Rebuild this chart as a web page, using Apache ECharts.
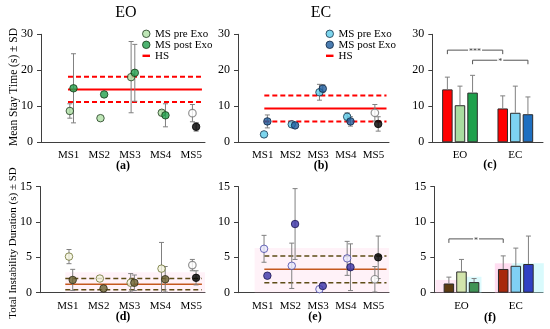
<!DOCTYPE html>
<html>
<head>
<meta charset="utf-8">
<script src="https://cdn.jsdelivr.net/npm/echarts@6/dist/echarts.min.js"></script>
<style>
html,body{margin:0;padding:0;background:#ffffff;}
#chart{width:550px;height:329px;}
</style>
</head>
<body>
<div id="chart"></div>
<script>
// ================= DATA =================
const categories = ['MS1', 'MS2', 'MS3', 'MS4', 'MS5'];
const groups = ['EO', 'EC'];
const yTicksTop = [0, 10, 20, 30];
const yTicksBottom = [0, 5, 10, 15];
const legendNames = ['MS pre Exo', 'MS post Exo', 'HS'];

// (a) Mean stay time, EO
const stayEOPre = [8.7, 6.7, 18.1, 8.2, 8.1];
const stayEOPreSD = [2.0, 0, 9.9, 0.6, 2.4];
const stayEOPost = [15.0, 13.3, 19.3, 7.5, 4.3];
const stayEOPostSD = [9.6, 0, 7.9, 3.2, 1.2];
const stayEOHS = [14.7, 3.5];          // mean, SD

// (b) Mean stay time, EC
const stayECPre = [2.2, 5.0, 13.9, 7.1, 8.2];
const stayECPreSD = [0, 0, 2.2, 1.1, 2.3];
const stayECPost = [5.8, 4.7, 14.9, 5.8, 5.1];
const stayECPostSD = [1.8, 0, 1.1, 1.3, 2.0];
const stayECHS = [9.4, 3.6];

// (c) group means (EO, EC)
const stayHSMean = [14.7, 9.4];
const stayHSSD = [3.4, 3.5];
const stayPreMean = [10.3, 8.2];
const stayPreSD = [5.3, 7.4];
const stayPostMean = [13.8, 7.8];
const stayPostSD = [4.8, 4.8];

// (d) Total instability duration, EO
const instEOPre = [5.1, 2.0, 1.4, 3.4, 3.9];
const instEOPreSD = [1.0, 0, 1.3, 3.7, 0.8];
const instEOPost = [1.8, 0.6, 1.4, 1.9, 2.1];
const instEOPostSD = [1.5, 0, 1.1, 1.8, 1.0];
const instEOHS = [1.2, 0.8];

// (e) Total instability duration, EC
const instECPre = [6.2, 3.8, 0.5, 4.85, 1.9];
const instECPreSD = [1.9, 3.2, 0, 2.4, 1.8];
const instECPost = [2.4, 9.7, 0.95, 3.6, 5.0];
const instECPostSD = [0, 5.0, 0, 3.3, 3.0];
const instECHS = [3.3, 1.9];

// (f) group means (EO, EC)
const instHSMean = [1.3, 3.35];
const instHSSD = [0.9, 1.85];
const instPreMean = [3.0, 3.8];
const instPreSD = [1.7, 2.5];
const instPostMean = [1.5, 4.05];
const instPostSD = [0.5, 3.95];

// significance brackets: [group, bar index] -> [group, bar index]
const staySig = [{from: [0, 0], to: [1, 0], label: '***'}, {from: [0, 2], to: [1, 2], label: '*'}];
const instSig = [{from: [0, 0], to: [1, 0], label: '*'}];

// ================= LAYOUT / STYLE =================
const FONT = '"Liberation Serif", "Times New Roman", serif';
const AXIS_COLOR = '#3f3f3f';
const ERR_COLOR = '#808080';
const grids = [
  {left: 41, top: 34.3, width: 164, height: 108},      // a
  {left: 238, top: 34.3, width: 151, height: 108},     // b
  {left: 432.3, top: 34.3, width: 110.7, height: 108}, // c
  {left: 40, top: 186.5, width: 165, height: 106.2},   // d
  {left: 238, top: 186.5, width: 151, height: 106.2},  // e
  {left: 434.3, top: 186.5, width: 108.7, height: 106.2} // f
];
const xMaxLeft = 5.35, xMaxMid = 5.45;
const PT_OFF = 0.06;
const SYM = 7.5;
const hsSpan = {a: [0.88, 5.25], b: [0.95, 5.36], d: [0.82, 5.25], e: [0.95, 5.36]};
const bandSpan = {d: [0.82, 5.35, 0, 2.9], e: [0.6, 5.45, 0, 6.3]};
const BAR_W = 10.5, BAR_GAP = 0.2, STEP = BAR_W * (1 + BAR_GAP);
const stayBracketLevels = [25.6, 22.8];
const instBracketLevels = [7.6];
const instShade = [
  {cat: 0, from: -26, to: -2, h: 1.8, color: 'rgba(255,190,225,0.35)'},
  {cat: 0, from: -2, to: 20, h: 2.25, color: 'rgba(180,245,250,0.45)'},
  {cat: 1, from: -21, to: -4, h: 4.15, color: 'rgba(255,180,225,0.45)'},
  {cat: 1, from: -4, to: 28, h: 4.15, color: 'rgba(180,245,250,0.5)'}
];

const st = {
  a: {pre: {color: '#aee0a4', borderColor: '#1e3a1e', borderWidth: 1}, post: {color: '#22a04c', borderColor: '#143814', borderWidth: 1},
      hs: {color: '#ff0000', width: 2}, hsd: {color: '#ff0000', width: 2, type: [5, 3]}},
  b: {pre: {color: '#5ccbe8', borderColor: '#14324a', borderWidth: 1}, post: {color: '#1e5c9e', borderColor: '#0e2440', borderWidth: 1},
      hs: {color: '#ff0000', width: 2}, hsd: {color: '#ff0000', width: 2, type: [5, 3]}},
  d: {pre: {color: '#f4f4e0', borderColor: '#6b7030', borderWidth: 1}, post: {color: '#6a6030', borderColor: '#2e2a14', borderWidth: 1},
      hs: {color: '#c4581e', width: 1.5}, hsd: {color: '#5e4c16', width: 1.5, type: [5, 3]}},
  e: {pre: {color: '#e8e8fb', borderColor: '#4646a8', borderWidth: 1}, post: {color: '#3a32a6', borderColor: '#1a1650', borderWidth: 1},
      hs: {color: '#c4581e', width: 1.5}, hsd: {color: '#5e4c16', width: 1.5, type: [5, 3]}}
};
const HIGHLIGHT_IDX = 4;
const hlPre = {color: '#ffffff', borderColor: '#777777', borderWidth: 1.2};
const hlPost = {color: '#000000', borderColor: '#000000', borderWidth: 1};
const stayColors = {hs: ['#ff0000', '#ff0000'], pre: ['#a9dca0', '#7dd3f2'], post: ['#1fa04c', '#1f6fc0']};
const instColors = {hs: ['#5c3b10', '#a8280c'], pre: ['#d2e4ac', '#80d0f4'], post: ['#3f9456', '#2f40c4']};

// ================= BUILDERS =================
function errSeries(gi, xs, vals, sds, upperOnly, offsets) {
  return {
    type: 'custom', xAxisIndex: gi, yAxisIndex: gi, z: 3, silent: true,
    data: vals.map((v, i) => [xs[i], v, sds[i]]),
    renderItem: (params, api) => {
      const x = api.value(0), y = api.value(1), s = api.value(2);
      if (!(s > 0)) return {type: 'group', children: []};
      const dx = offsets ? offsets : 0;
      const lo = upperOnly ? y : Math.max(0, y - s);
      const pt = api.coord([x, y + s]), pb = api.coord([x, lo]);
      const px = pt[0] + dx;
      const cw = 2.5;
      const ls = {stroke: ERR_COLOR, lineWidth: 1};
      const ch = [
        {type: 'line', shape: {x1: px, y1: pt[1], x2: px, y2: pb[1]}, style: ls},
        {type: 'line', shape: {x1: px - cw, y1: pt[1], x2: px + cw, y2: pt[1]}, style: ls}
      ];
      if (!upperOnly && y - s >= 0) ch.push({type: 'line', shape: {x1: px - cw, y1: pb[1], x2: px + cw, y2: pb[1]}, style: ls});
      return {type: 'group', children: ch};
    }
  };
}

function scatterPanel(gi, key, pre, preSD, post, postSD, hs) {
  const s = st[key];
  const xsPre = pre.map((_, i) => i + 1 - PT_OFF);
  const xsPost = post.map((_, i) => i + 1 + PT_OFF);
  const span = hsSpan[key];
  const solid = {
    type: 'line', name: 'HS', xAxisIndex: gi, yAxisIndex: gi, z: 2, silent: true, symbol: 'none',
    data: [[span[0], hs[0]], [span[1], hs[0]]], lineStyle: s.hs
  };
  if (bandSpan[key]) {
    const b = bandSpan[key];
    solid.markArea = {silent: true, itemStyle: {color: 'rgba(255,190,220,0.2)'},
      data: [[{xAxis: b[0], yAxis: b[2]}, {xAxis: b[1], yAxis: b[3]}]]};
  }
  const up = {type: 'line', name: 'HS+SD', xAxisIndex: gi, yAxisIndex: gi, z: 2, silent: true, symbol: 'none',
    data: [[span[0], hs[0] + hs[1]], [span[1], hs[0] + hs[1]]], lineStyle: s.hsd};
  const dn = {type: 'line', name: 'HS-SD', xAxisIndex: gi, yAxisIndex: gi, z: 2, silent: true, symbol: 'none',
    data: [[span[0], hs[0] - hs[1]], [span[1], hs[0] - hs[1]]], lineStyle: s.hsd};
  const sc = (name, xs, vals, style, hl) => ({
    type: 'scatter', name, xAxisIndex: gi, yAxisIndex: gi, z: 5, silent: true, symbol: 'circle', symbolSize: SYM,
    itemStyle: style,
    data: vals.map((v, i) => i === HIGHLIGHT_IDX ? {value: [xs[i], v], itemStyle: hl} : [xs[i], v])
  });
  return [solid, up, dn,
    errSeries(gi, xsPre, pre, preSD, false), errSeries(gi, xsPost, post, postSD, false),
    sc('MS pre Exo', xsPre, pre, s.pre, hlPre), sc('MS post Exo', xsPost, post, s.post, hlPost)];
}

function barPanel(gi, hsM, hsS, preM, preS, postM, postS, colors, sig, levels, shade) {
  const out = [];
  const mk = (name, vals, cols) => ({
    type: 'bar', name, xAxisIndex: gi, yAxisIndex: gi, z: 2, silent: true, barWidth: BAR_W, barGap: (BAR_GAP * 100) + '%',
    itemStyle: {borderColor: '#2b2b2b', borderWidth: 1},
    data: vals.map((v, i) => ({value: v, itemStyle: {color: cols[i]}}))
  });
  out.push(mk('HS', hsM, colors.hs), mk('MS pre Exo', preM, colors.pre), mk('MS post Exo', postM, colors.post));
  const idx = groups.map((_, i) => i);
  [[hsM, hsS], [preM, preS], [postM, postS]].forEach((pair, k) => {
    out.push(errSeries(gi, idx, pair[0], pair[1], true, (k - 1) * STEP));
  });
  out.push({
    type: 'custom', xAxisIndex: gi, yAxisIndex: gi, z: 4, silent: true,
    data: sig.map((d, i) => [d.from[0], levels[i]]),
    renderItem: (params, api) => {
      const d = sig[params.dataIndex], lvl = levels[params.dataIndex];
      const pA = api.coord([d.from[0], lvl]), pB = api.coord([d.to[0], lvl]);
      const xA = pA[0] + (d.from[1] - 1) * STEP, xB = pB[0] + (d.to[1] - 1) * STEP, y = pA[1];
      return {type: 'group', children: [
        {type: 'polyline', shape: {points: [[xA, y + 4], [xA, y], [xB, y], [xB, y + 4]]}, style: {stroke: '#555555', lineWidth: 1, fill: 'none'}},
        {type: 'text', x: (xA + xB) / 2, y: y + 2, style: {text: d.label, fontSize: 8, fontFamily: FONT, fill: '#333333',
          textAlign: 'center', textVerticalAlign: 'middle', verticalAlign: 'middle', backgroundColor: '#ffffff', padding: [0, 1]}}
      ]};
    }
  });
  if (shade) {
    out.push({
      type: 'custom', xAxisIndex: gi, yAxisIndex: gi, z: 1, silent: true,
      data: shade.map(r => [r.cat, r.h]),
      renderItem: (params, api) => {
        const r = shade[params.dataIndex];
        const p0 = api.coord([r.cat, 0]), p1 = api.coord([r.cat, r.h]);
        return {type: 'rect', shape: {x: p0[0] + r.from, y: p1[1], width: r.to - r.from, height: p0[1] - p1[1]}, style: {fill: r.color}};
      }
    });
  }
  return out;
}

function valueX(gi, max, margin) {
  return {
    gridIndex: gi, type: 'value', min: 0, max: max, interval: 1,
    axisLine: {show: true, onZero: true, lineStyle: {color: AXIS_COLOR, width: 1}},
    axisTick: {show: false}, splitLine: {show: false},
    axisLabel: {margin: margin, fontFamily: FONT, fontSize: 11, color: '#000', padding: [0, 6, 0, 0],
      formatter: v => {
        const r = Math.round(v);
        return (Math.abs(v - r) < 1e-6 && r >= 1 && r <= categories.length) ? categories[r - 1] : '';
      }}
  };
}
function catX(gi, margin) {
  return {
    gridIndex: gi, type: 'category', data: groups,
    axisLine: {show: true, lineStyle: {color: AXIS_COLOR, width: 1}}, axisTick: {show: false},
    axisLabel: {margin: margin, fontFamily: FONT, fontSize: 11, color: '#000'}
  };
}
function valY(gi, ticks) {
  return {
    gridIndex: gi, type: 'value', min: ticks[0], max: ticks[ticks.length - 1], interval: ticks[1] - ticks[0],
    axisLine: {show: true, lineStyle: {color: AXIS_COLOR, width: 1}},
    axisTick: {show: true, length: 4, lineStyle: {color: AXIS_COLOR}},
    splitLine: {show: false},
    axisLabel: {margin: 8, fontFamily: FONT, fontSize: 12, color: '#000'}
  };
}

function legendFor(left, top, s) {
  return {
    left: left, top: top, orient: 'vertical', itemWidth: 7.5, itemHeight: 7.5, itemGap: 0, padding: 0,
    selectedMode: false,
    textStyle: {fontFamily: FONT, fontSize: 11, color: '#000', lineHeight: 10},
    data: [
      {name: legendNames[0], icon: 'circle', itemStyle: s.pre},
      {name: legendNames[1], icon: 'circle', itemStyle: s.post},
      {name: legendNames[2], icon: 'path://M0,0 L10,0 L10,3.2 L0,3.2 Z', itemStyle: {color: '#ff0000', borderWidth: 0}}
    ]
  };
}

const texts = [
  {t: 'EO', x: 126, y: 13, size: 16, w: 'normal'},
  {t: 'EC', x: 321, y: 13, size: 16, w: 'normal'},
  {t: '(a)', x: 123, y: 166, size: 12, w: 'bold'},
  {t: '(b)', x: 321, y: 166, size: 12, w: 'bold'},
  {t: '(c)', x: 490, y: 165, size: 12, w: 'bold'},
  {t: '(d)', x: 123, y: 317, size: 12, w: 'bold'},
  {t: '(e)', x: 315, y: 317, size: 12, w: 'bold'},
  {t: '(f)', x: 490, y: 318, size: 12, w: 'bold'},
  {t: 'Mean Stay Time (s) \u00b1 SD', x: 13.5, y: 87, size: 11.5, w: 'normal', rot: Math.PI / 2},
  {t: 'Total Instability Duration (s) \u00b1 SD', x: 13, y: 243, size: 11, w: 'normal', rot: Math.PI / 2}
];

const series = [].concat(
  scatterPanel(0, 'a', stayEOPre, stayEOPreSD, stayEOPost, stayEOPostSD, stayEOHS),
  scatterPanel(1, 'b', stayECPre, stayECPreSD, stayECPost, stayECPostSD, stayECHS),
  barPanel(2, stayHSMean, stayHSSD, stayPreMean, stayPreSD, stayPostMean, stayPostSD, stayColors, staySig, stayBracketLevels, null),
  scatterPanel(3, 'd', instEOPre, instEOPreSD, instEOPost, instEOPostSD, instEOHS),
  scatterPanel(4, 'e', instECPre, instECPreSD, instECPost, instECPostSD, instECHS),
  barPanel(5, instHSMean, instHSSD, instPreMean, instPreSD, instPostMean, instPostSD, instColors, instSig, instBracketLevels, instShade)
);

const option = {
  animation: false,
  backgroundColor: '#ffffff',
  grid: grids.map(g => Object.assign({containLabel: false}, g)),
  xAxis: [valueX(0, xMaxLeft, 7), valueX(1, xMaxMid, 7), catX(2, 7), valueX(3, xMaxLeft, 8), valueX(4, xMaxMid, 8), catX(5, 8)],
  yAxis: [valY(0, yTicksTop), valY(1, yTicksTop), valY(2, yTicksTop), valY(3, yTicksBottom), valY(4, yTicksBottom), valY(5, yTicksBottom)],
  legend: [legendFor(142, 28.3, st.a), legendFor(325.5, 28.3, st.b)],
  graphic: texts.map(o => ({
    type: 'text', x: o.x, y: o.y, rotation: o.rot || 0, silent: true,
    style: {text: o.t, fontSize: o.size, fontFamily: FONT, fontWeight: o.w, fill: '#000',
      textAlign: 'center', textVerticalAlign: 'middle', verticalAlign: 'middle'}
  })),
  series: series
};

const chart = echarts.init(document.getElementById('chart'), null, {renderer: 'canvas'});
chart.setOption(option);
</script>
</body>
</html>
